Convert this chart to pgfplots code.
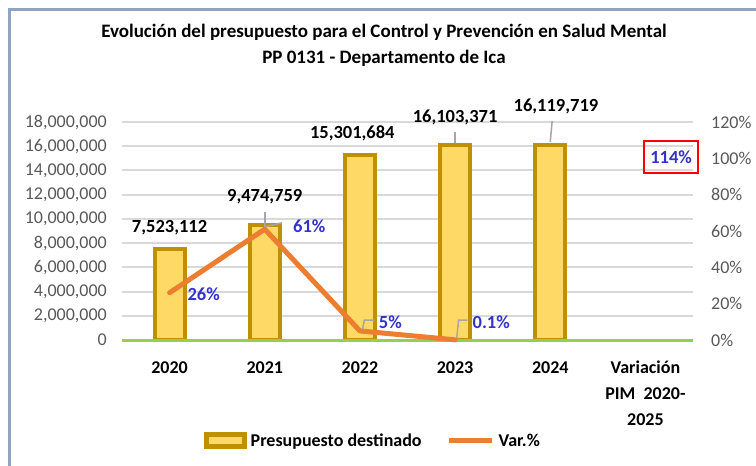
\documentclass[border=0pt]{standalone}
\usepackage{fontspec}
\setmainfont{Carlito}
\usepackage{pgfplots}
\pgfplotsset{compat=1.18}
\definecolor{barfill}{HTML}{FFD966}
\definecolor{bardraw}{HTML}{BF9000}
\definecolor{lineor}{HTML}{ED7D31}
\definecolor{gridc}{HTML}{D9D9D9}
\definecolor{basegr}{HTML}{92D050}
\definecolor{lblue}{HTML}{3333CC}
\definecolor{framec}{HTML}{8EA4C2}
\definecolor{tickc}{HTML}{595959}
\definecolor{leadc}{HTML}{A6A6A6}
\pgfplotsset{
  barlegend/.style={legend image code/.code={\draw[##1] (0pt,-6pt) rectangle (38pt,6pt);}},
  linelegend/.style={legend image code/.code={\draw[##1, line cap=butt] (0pt,0pt) -- (43pt,0pt);}},
}
\begin{document}
\begin{tikzpicture}[x=1pt,y=1pt]
\path[use as bounding box] (0,0) rectangle (756,-466);
\fill[white] (0,0) rectangle (756,-466);
\draw[framec, line width=3pt] (9.5,-480) -- (9.5,-9.5) -- (770,-9.5);
\node[font=\bfseries\fontsize{19}{26}\selectfont, align=center] at (384,-45) {Evolución del presupuesto para el Control y Prevención en Salud Mental\\PP 0131 - Departamento de Ica};

\begin{axis}[
  at={(122pt,-340pt)}, anchor=south west, scale only axis,
  width=571pt, height=218pt,
  xmin=-0.5, xmax=5.5, ymin=0, ymax=18000000,
  clip=false,
  axis line style={draw=none}, major tick length=0pt,
  ymajorgrids, major grid style={gridc, line width=2pt},
  ytick={0,2000000,4000000,6000000,8000000,10000000,12000000,14000000,16000000,18000000},
  scaled y ticks=false,
  /pgf/number format/assume math mode=true,
  yticklabel style={/pgf/number format/fixed, /pgf/number format/1000 sep={,}, font=\fontsize{18}{20}\selectfont, text=tickc, anchor=east, inner sep=0pt, xshift=-15pt},
  xtick={0,1,2,3,4,5},
  xticklabels={\rule{0pt}{14pt}2020,\rule{0pt}{14pt}2021,\rule{0pt}{14pt}2022,\rule{0pt}{14pt}2023,\rule{0pt}{14pt}2024,{\rule{0pt}{14pt}Variación\\PIM\ \ 2020-\\2025}},
  xticklabel style={font=\bfseries\fontsize{18}{26}\selectfont, align=center, anchor=north, inner sep=0pt, yshift=-19pt},
  ybar, bar width=30pt,
]
\addplot[ybar, fill=barfill, draw=bardraw, line width=4pt] coordinates {(0,7523112) (1,9474759) (2,15301684) (3,16103371) (4,16119719)};
\draw[basegr, line width=3pt] (axis cs:-0.5,0) -- (axis cs:5.5,0);
\begin{scope}[font=\bfseries\fontsize{18.5}{20}\selectfont]
\node at (axis cs:0,9250000) {7,523,112};
\node at (axis cs:1,11810000) {9,474,759};
\node at (axis cs:1.92,17090000) {15,301,684};
\node at (axis cs:3,18410000) {16,103,371};
\node at (axis cs:4.06,19320000) {16,119,719};
\end{scope}
\draw[leadc, line width=1.5pt] (axis cs:1,10570000) -- (axis cs:1,9330000);
\draw[leadc, line width=1.5pt] (axis cs:3,17170000) -- (axis cs:3,16270000);
\draw[leadc, line width=1.5pt] (axis cs:4.02,18080000) -- (axis cs:4.0,16350000);
\end{axis}

\begin{axis}[
  at={(122pt,-340pt)}, anchor=south west, scale only axis,
  width=571pt, height=218pt,
  xmin=-0.5, xmax=5.5, ymin=0, ymax=120,
  clip=false,
  axis y line*=right, hide x axis,
  axis line style={draw=none}, major tick length=0pt,
  ytick={0,20,40,60,80,100,120},
  /pgf/number format/assume math mode=true,
  yticklabel={\pgfmathprintnumber{\tick}\%},
  yticklabel style={font=\fontsize{18}{20}\selectfont, text=tickc, anchor=west, inner sep=0pt, xshift=18pt},
  legend style={at={(0.1427,-0.463)}, anchor=west, draw=none, fill=none, inner sep=0pt, nodes={inner sep=0pt}, legend columns=2, font=\bfseries\fontsize{18}{20}\selectfont, /tikz/every odd column/.append style={column sep=4pt}, /tikz/every even column/.append style={column sep=25pt}},
]
\addlegendimage{fill=barfill, draw=bardraw, line width=5pt, barlegend}
\addlegendentry{Presupuesto destinado}
\draw[leadc, line width=1.5pt] (axis cs:1,62.3) -- (axis cs:1.18,64.5);
\draw[leadc, line width=1.5pt] (axis cs:2.026,5.5) -- (axis cs:2.047,11.0) -- (axis cs:2.153,11.0);
\draw[leadc, line width=1.5pt] (axis cs:3.016,0.5) -- (axis cs:3.037,11.0) -- (axis cs:3.13,11.0);
\addplot[lineor, line width=5pt, line cap=round, line join=round, mark=none, linelegend] coordinates {(0,26) (1,61) (2,5) (3,0.1)};
\addlegendentry{Var.\%}
\begin{scope}[font=\bfseries\fontsize{18.5}{20}\selectfont, text=lblue]
\node at (axis cs:0.358,25.3) {26\%};
\node at (axis cs:1.468,62.8) {61\%};
\node at (axis cs:2.32,9.9) {5\%};
\node at (axis cs:3.38,9.9) {0.1\%};
\node[draw=red, line width=2pt, minimum width=54pt, minimum height=32pt] at (axis cs:5.27,100.7) {114\%};
\end{scope}
\end{axis}
\end{tikzpicture}
\end{document}
